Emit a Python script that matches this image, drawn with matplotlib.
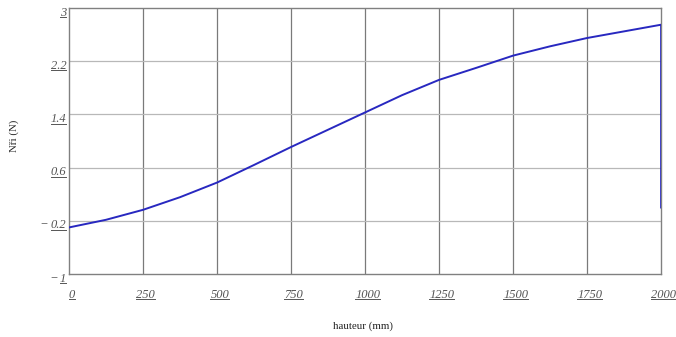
import matplotlib
matplotlib.use("Agg")
import matplotlib.pyplot as plt
from matplotlib.lines import Line2D
import numpy as np

# values
hauteur = [0, 125, 250, 375, 500, 625, 750, 875, 1000, 1125, 1250,
           1375, 1500, 1625, 1750, 1875, 2000, 2000]
effort = [-0.30, -0.185, -0.035, 0.155, 0.375, 0.64, 0.91, 1.17, 1.43, 1.69, 1.92,
          2.10, 2.285, 2.425, 2.55, 2.65, 2.75, 0.0]

x_ticks = [0, 250, 500, 750, 1000, 1250, 1500, 1750, 2000]
y_ticks = [-1, -0.2, 0.6, 1.4, 2.2, 3]
y_tick_labels = ["1", "0.2", "0.6", "1.4", "2.2", "3"]

fig = plt.figure(figsize=(6.76, 3.37), dpi=100)
ax = fig.add_axes([0.102, 0.187, 0.876, 0.789])

ax.plot(hauteur, effort, color='#2828c0', linewidth=1.4, zorder=3)

ax.set_xlim(0, 2000)
ax.set_ylim(-1, 3)

# grid: vertical lines darker than horizontal ones
for xv in x_ticks[1:-1]:
    ax.axvline(xv, color='#7a7a7a', linewidth=0.9, zorder=1)
for yv in y_ticks[1:-1]:
    ax.axhline(yv, color='#b8b8b8', linewidth=0.9, zorder=1)

for s in ax.spines.values():
    s.set_color('#808080')
    s.set_linewidth(1.0)

ax.set_xticks([])
ax.set_yticks([])

lab_style = dict(family='Liberation Serif', style='italic', fontsize=9,
                 color='#555555')
underlined = []
minus_for = []
for v in x_ticks:
    t = ax.annotate(str(v), (v, -1), xycoords='data', xytext=(2, -10.5),
                    textcoords='offset points', ha='center', va='top',
                    **lab_style)
    underlined.append(t)
for v, l in zip(y_ticks, y_tick_labels):
    t = ax.annotate(l, (0, v), xycoords='data', xytext=(-2, 1),
                    textcoords='offset points', ha='right', va='top',
                    **lab_style)
    underlined.append(t)
    if v < 0:
        minus_for.append(t)

ax.set_xlabel('hauteur (mm)', family='Liberation Serif', fontsize=7.8,
              color='#222222', va='top')
ax.xaxis.set_label_coords(0.497, -0.177)
ax.set_ylabel('Nři (N)', family='Liberation Serif', fontsize=7.8,
              color='#222222', va='center')
ax.yaxis.set_label_coords(-0.093, 0.52)

# underline the tick labels, put the minus signs in front
fig.canvas.draw()
r = fig.canvas.get_renderer()
W, H = fig.bbox.width, fig.bbox.height
for t in underlined:
    bb = t.get_window_extent(r)
    yl = bb.y0 + 1.5
    fig.add_artist(Line2D([bb.x0 / W, bb.x1 / W], [yl / H, yl / H],
                          transform=fig.transFigure, color='#555555',
                          linewidth=0.7))
for t in minus_for:
    bb = t.get_window_extent(r)
    fig.text((bb.x0 - 3) / W, (bb.y0 + bb.y1) / 2 / H, '\u2212',
             ha='right', va='center', family='Liberation Serif',
             fontsize=9, color='#555555')

fig.savefig('out.png', dpi=100)
